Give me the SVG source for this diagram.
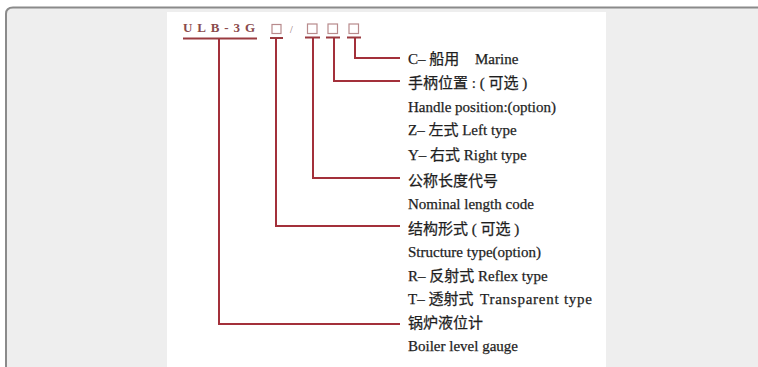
<svg xmlns="http://www.w3.org/2000/svg" width="758" height="367" viewBox="0 0 758 367">
<style>
.lbl{font-family:"Liberation Serif","Noto Sans CJK SC",serif;font-size:15px;fill:#1e1e1e;stroke:#1e1e1e;stroke-width:0.25;}
.code{font-family:"Liberation Serif",serif;font-size:13px;font-weight:bold;fill:#8a4a4c;}
.box{fill:none;stroke:#b88a8c;stroke-width:1.2;}
.ul{stroke:#9a3b40;stroke-width:2;}
.conn{fill:none;stroke:#a3303a;stroke-width:2;}
</style>
<rect x="0" y="0" width="758" height="367" fill="#ffffff"/>
<path d="M6 375 V14 Q6 7.5 13 7.5 H770 V375 Z" fill="#eeeeee" stroke="#8a8a8a" stroke-width="2"/>
<rect x="167" y="12" width="439" height="360" fill="#ffffff"/>
<g id="code">
<text class="code" x="183" y="32" textLength="72" lengthAdjust="spacing">ULB-3G</text>
<line class="ul" x1="183" y1="38.5" x2="257" y2="38.5"/>
<rect class="box" x="272" y="24.5" width="9" height="9"/>
<line class="ul" x1="270" y1="38" x2="283" y2="38"/>
<text x="290" y="33" font-family="Liberation Serif,serif" font-size="10" fill="#8a6a6a">/</text>
<rect class="box" x="307.5" y="24" width="9.5" height="9.5"/>
<line class="ul" x1="305" y1="37.5" x2="320" y2="37.5"/>
<rect class="box" x="328" y="24" width="9.5" height="9.5"/>
<line class="ul" x1="326" y1="37.5" x2="340" y2="37.5"/>
<rect class="box" x="349" y="24" width="9.5" height="9.5"/>
<line class="ul" x1="347" y1="37.5" x2="361" y2="37.5"/>
</g>
<g id="connectors">
<path class="conn" d="M355 38 V58 H400"/>
<path class="conn" d="M334 38 V81 H400"/>
<path class="conn" d="M313 38 V178 H400"/>
<path class="conn" d="M276 38 V226 H400"/>
<path class="conn" d="M219 39 V324 H400"/>
</g>
<g id="marine"><text class="lbl" x="408" y="64">C– 船用<tspan x="475">Marine</tspan></text></g>
<g id="handle">
<text class="lbl" x="408" y="88">手柄位置 : ( 可选 )</text>
<text class="lbl" x="408" y="112">Handle position:(option)</text>
<text class="lbl" x="408" y="135">Z– 左式 Left type</text>
<text class="lbl" x="408" y="160">Y– 右式 Right type</text>
</g>
<g id="length">
<text class="lbl" x="408" y="186">公称长度代号</text>
<text class="lbl" x="408" y="209">Nominal length code</text>
</g>
<g id="structure">
<text class="lbl" x="408" y="234">结构形式 ( 可选 )</text>
<text class="lbl" x="408" y="257">Structure type(option)</text>
<text class="lbl" x="408" y="281">R– 反射式 Reflex type</text>
<text class="lbl" x="408" y="304">T– 透射式 <tspan x="480" textLength="112" lengthAdjust="spacing">Transparent type</tspan></text>
</g>
<g id="gauge">
<text class="lbl" x="408" y="328">锅炉液位计</text>
<text class="lbl" x="408" y="351">Boiler level gauge</text>
</g>
</svg>
